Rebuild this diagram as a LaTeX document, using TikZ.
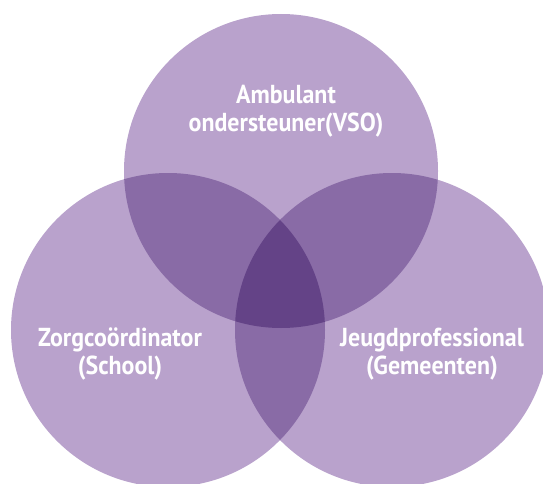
\documentclass[tikz,border=0pt]{standalone}
\usepackage{fontspec}
\newfontfamily\lblfont{PT Sans}[FakeStretch=0.92]
\usetikzlibrary{positioning}

\definecolor{paarsLicht}{RGB}{185,162,204}
\definecolor{paarsMidden}{RGB}{137,107,166}
\definecolor{paarsDonker}{RGB}{100,67,135}

\tikzset{
    rol/.style = {text = white, align = center,
        font = \lblfont\bfseries\fontsize{26}{28}\selectfont}
}

\begin{document}
\begin{tikzpicture}[x = 1pt, y = -1pt]
            \useasboundingbox (0,0) rectangle (543,484);
            \clip (0,0) rectangle (543,484);

            \coordinate (vso) at (281,171);
            \coordinate (school) at (168,330);
            \coordinate (gemeente) at (392,330);

            % de drie cirkels
            \fill[paarsLicht] (vso) circle[radius=157];
            \fill[paarsLicht] (school) circle[radius=157];
            \fill[paarsLicht] (gemeente) circle[radius=157];

            % overlap van twee cirkels
            \begin{scope}
                \clip (vso) circle[radius=157];
                \fill[paarsMidden] (school) circle[radius=157];
                \fill[paarsMidden] (gemeente) circle[radius=157];
            \end{scope}
            \begin{scope}
                \clip (school) circle[radius=157];
                \fill[paarsMidden] (gemeente) circle[radius=157];
            \end{scope}

            % overlap van alle drie
            \begin{scope}
                \clip (vso) circle[radius=157];
                \clip (school) circle[radius=157];
                \fill[paarsDonker] (gemeente) circle[radius=157];
            \end{scope}

            \node[rol] (ambulant) at (286,111) {Ambulant\\ondersteuner(VSO)};
            \node[rol] (zorg) at (120,354) {Zorgcoördinator\\(School)};
            \node[rol] (jeugd) at (432,354) {Jeugdprofessional\\(Gemeenten)};
        \end{tikzpicture}
\end{document}
